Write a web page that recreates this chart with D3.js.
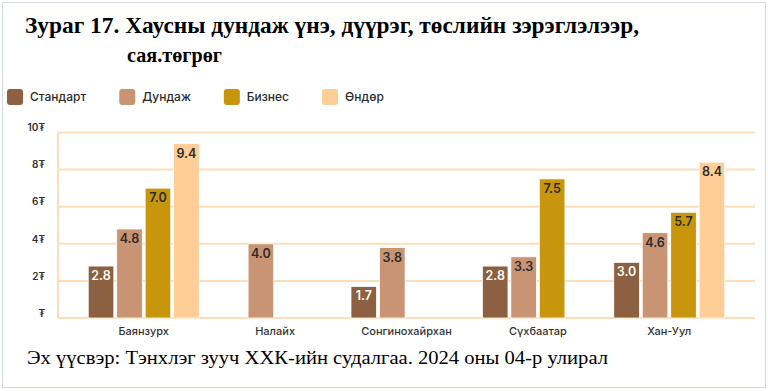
<!DOCTYPE html>
<html>
<head>
<meta charset="utf-8">
<script src="https://cdn.jsdelivr.net/npm/d3@7"></script>
<style>
  html, body { margin: 0; padding: 0; background: #fff; }
  svg { display: block; }
</style>
</head>
<body>
<svg id="chart" width="768" height="391"></svg>
<script>
// ---- Data ----
const districts = ["Баянзурх", "Налайх", "Сонгинохайрхан", "Сүхбаатар", "Хан-Уул"];
const seriesNames = ["Стандарт", "Дундаж", "Бизнес", "Өндөр"];
const standard = [2.8, null, 1.7, 2.8, 3.0];
const medium   = [4.8, 4.0, 3.8, 3.3, 4.6];
const business = [7.0, null, null, 7.5, 5.7];
const premium  = [9.4, null, null, null, 8.4];
const yTicks = [0, 2, 4, 6, 8, 10];
const yTickLabels = ["₮", "2₮", "4₮", "6₮", "8₮", "10₮"];
const titleLines = ["Зураг 17. Хаусны дундаж үнэ, дүүрэг, төслийн зэрэглэлээр,", "сая.төгрөг"];
const sourceText = "Эх үүсвэр: Тэнхлэг зууч ХХК-ийн судалгаа.  2024 оны 04-р улирал";

const colors = ["#8C6040", "#C89474", "#C8960C", "#FFCD97"];
const labelColors = ["#ffffff", "#2b2b2b", "#2b2b2b", "#2b2b2b"];
const seriesValues = [standard, medium, business, premium];

const svg = d3.select("#chart");

// border
svg.append("rect").attr("x", 2.5).attr("y", 2.5).attr("width", 763).attr("height", 385)
  .attr("fill", "#fff").attr("stroke", "#d5d9e0").attr("stroke-width", 1);

// Title
const title = svg.append("text")
  .attr("font-family", "'Liberation Serif', 'Times New Roman', serif")
  .attr("font-weight", "bold").attr("fill", "#000");
title.append("tspan").attr("x", 25).attr("y", 33).attr("font-size", 23.5)
  .attr("textLength", 614).attr("lengthAdjust", "spacingAndGlyphs").text(titleLines[0]);
title.append("tspan").attr("x", 127).attr("y", 62).attr("font-size", 22)
  .attr("textLength", 95).attr("lengthAdjust", "spacingAndGlyphs").text(titleLines[1]);

// Legend
const legend = svg.append("g").attr("font-family", "Inter, 'Noto Sans', sans-serif")
  .attr("font-size", 12).attr("font-weight", 500).attr("fill", "#2b2b2b");
let lx = 7;
seriesNames.forEach((name, i) => {
  legend.append("rect").attr("x", lx).attr("y", 89).attr("width", 16).attr("height", 16)
    .attr("rx", 3).attr("fill", colors[i]);
  const t = legend.append("text").attr("x", lx + 23).attr("y", 101).text(name);
  const w = t.node().getComputedTextLength();
  lx = lx + 23 + w + 33;
});

// Scales
const plotLeft = 58, plotRight = 755, plotTop = 132.5, plotBottom = 318;
const y = d3.scaleLinear().domain([0, 10]).range([plotBottom, plotTop]);
const x0 = d3.scaleBand().domain(districts).range([plotLeft, plotRight])
  .paddingInner(0.155).paddingOuter(0.23);
const x1 = d3.scaleBand().domain(seriesNames).range([0, x0.bandwidth()]).paddingInner(0.1);

// Grid
const grid = svg.append("g");
grid.selectAll("line.h").data(yTicks).join("line")
  .attr("x1", plotLeft).attr("x2", plotRight)
  .attr("y1", d => y(d)).attr("y2", d => y(d))
  .attr("stroke", "#FDDDBA").attr("stroke-width", 2);
grid.append("line").attr("x1", plotLeft).attr("x2", plotLeft)
  .attr("y1", y(10)).attr("y2", y(0))
  .attr("stroke", "#FDDDBA").attr("stroke-width", 2);

// Y axis labels
const yAxis = d3.axisLeft(y).tickValues(yTicks)
  .tickFormat((d, i) => yTickLabels[i]).tickSize(0).tickPadding(0);
const yg = svg.append("g").attr("transform", `translate(45,-5)`).call(yAxis);
yg.select(".domain").remove();
yg.selectAll("text").attr("font-family", "Inter, 'Noto Sans', sans-serif")
  .attr("font-size", 10).attr("font-weight", 600).attr("fill", "#333");

// X axis labels
const xAxis = d3.axisBottom(x0).tickSize(0).tickPadding(0);
const xg = svg.append("g").attr("transform", `translate(0,${plotBottom + 9})`).call(xAxis);
xg.select(".domain").remove();
xg.selectAll("text").attr("font-family", "Inter, 'Noto Sans', sans-serif")
  .attr("font-size", 11).attr("font-weight", 500).attr("fill", "#333");

// Bars
const rows = [];
districts.forEach((d, di) => {
  seriesNames.forEach((s, si) => {
    const v = seriesValues[si][di];
    if (v != null) rows.push({ district: d, series: s, si, value: v });
  });
});
const barG = svg.append("g");
barG.selectAll("rect").data(rows).join("rect")
  .attr("x", d => x0(d.district) + x1(d.series))
  .attr("width", x1.bandwidth())
  .attr("y", d => y(d.value))
  .attr("height", d => y(0) - y(d.value))
  .attr("fill", d => colors[d.si])
  .attr("stroke", "#fff").attr("stroke-width", 0.8);

barG.selectAll("text").data(rows).join("text")
  .attr("x", d => x0(d.district) + x1(d.series) + x1.bandwidth() / 2)
  .attr("y", d => y(d.value) + 14)
  .attr("text-anchor", "middle")
  .attr("font-family", "Inter, 'Noto Sans', sans-serif")
  .attr("font-size", 12.5).attr("font-weight", 600)
  .attr("fill", d => labelColors[d.si])
  .text(d => d.value.toFixed(1));

// Source
svg.append("text").attr("x", 27).attr("y", 364)
  .attr("font-family", "'Liberation Serif', 'Times New Roman', serif")
  .attr("font-size", 18.5).attr("fill", "#000")
  .attr("textLength", 581).attr("lengthAdjust", "spacingAndGlyphs")
  .text(sourceText);
</script>
</body>
</html>
